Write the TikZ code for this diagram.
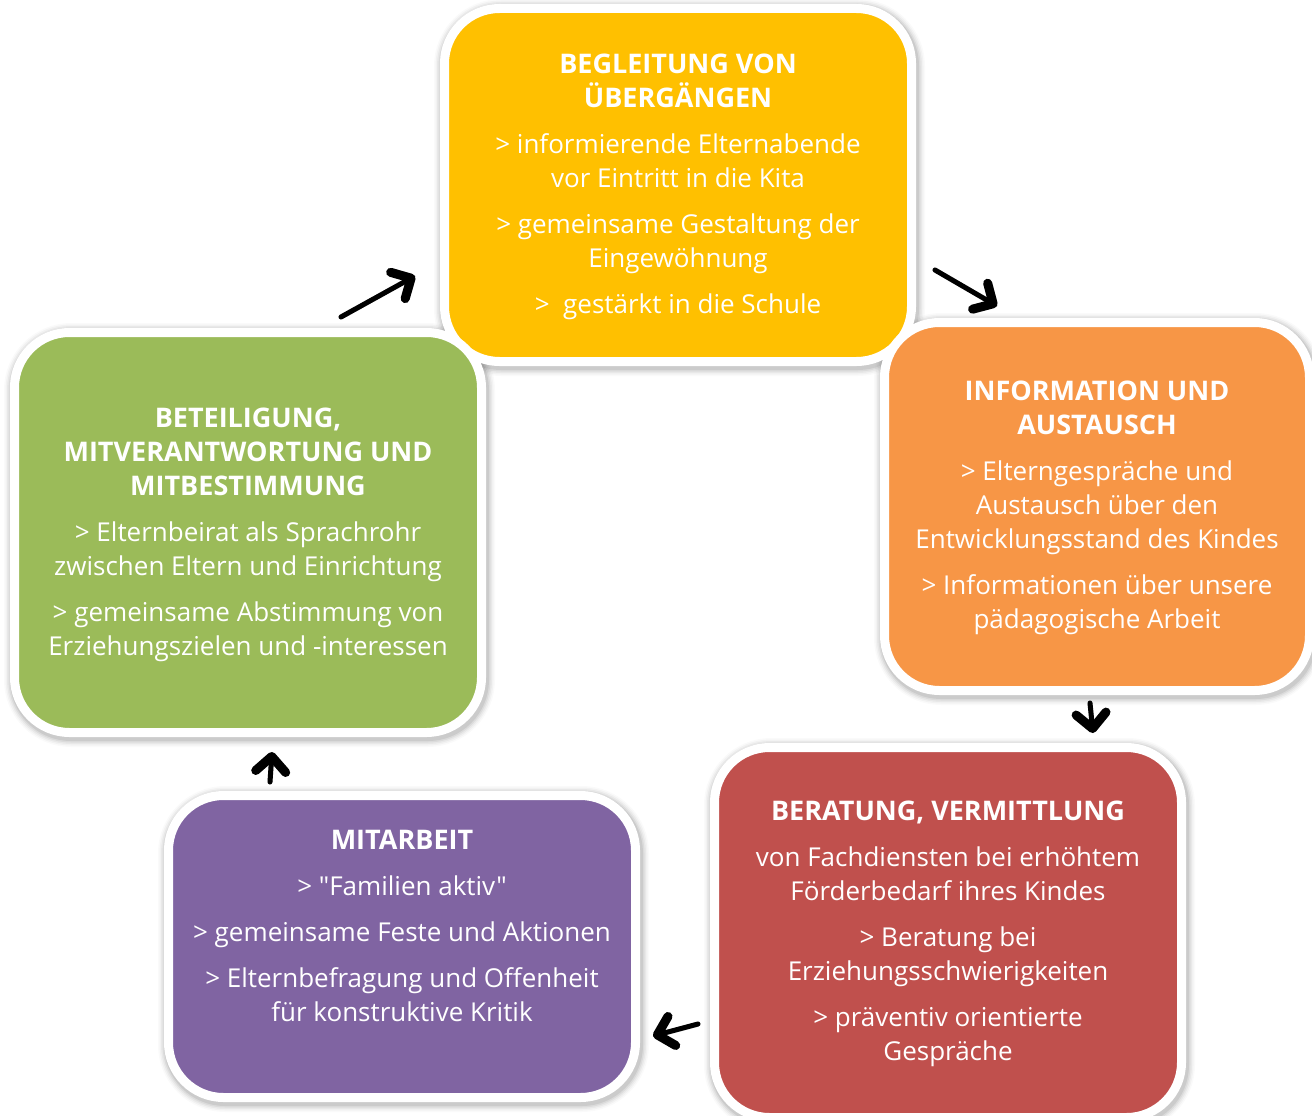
\documentclass[tikz,border=0pt]{standalone}
\usepackage{fontspec}
\setmainfont{Open Sans}[Ligatures=TeXOff]
\usetikzlibrary{arrows.meta}
\definecolor{cyellow}{HTML}{FFC000}
\definecolor{corange}{HTML}{F79646}
\definecolor{cgreen}{HTML}{9BBB59}
\definecolor{cred}{HTML}{C0504D}
\definecolor{cpurple}{HTML}{8064A2}
\newcommand\ttl[1]{{\fontsize{27}{34}\selectfont\bfseries #1}}
\begin{document}
\begin{tikzpicture}[x=1pt,y=-1pt,
  box/.style={rectangle, rounded corners=55pt, draw=white, line width=9pt, inner sep=0pt},
  txt/.style={text=white, align=center, inner sep=0pt, font=\fontsize{26}{34}\selectfont},
  arr/.style={line width=5pt, line cap=round, line join=round, -{Straight Barb[length=15pt,width=30pt,line width=9pt,round]}},
  arrshadow/.style={arr, black, opacity=0.18, xshift=1.5pt, yshift=-3pt}
]
\useasboundingbox (0,0) rectangle (1312,1116);
\fill[white] (0,0) rectangle (1312,1116);
% soft shadows
\foreach \cx/\cy/\w/\h in {678/185/467/353, 1097/506.5/425/368, 248/532.5/467/400, 948/932.5/467/370, 402/946.5/467/302}{
  \foreach \k/\o in {1/0.07,2/0.05,3/0.04,4/0.03,5/0.02}{
    \draw[black, opacity=\o, line width={9pt+3pt*\k}, rounded corners=55pt, xshift=1.5pt, yshift=-2.5pt]
      (\cx-\w/2,\cy-\h/2) rectangle (\cx+\w/2,\cy+\h/2);
  }
}
% boxes
\node[box, fill=cyellow, minimum width=467pt, minimum height=353pt] (yb) at (678,185) {};
\node[box, fill=corange, minimum width=425pt, minimum height=368pt] (ob) at (1097,506.5) {};
\node[box, fill=cgreen, minimum width=467pt, minimum height=400pt] (gb) at (248,532.5) {};
\node[box, fill=cred, minimum width=467pt, minimum height=370pt] (rb) at (948,932.5) {};
\node[box, fill=cpurple, minimum width=467pt, minimum height=302pt] (pb) at (402,946.5) {};
% texts
\node[txt] (yt) at (678,187) {\ttl{BEGLEITUNG VON}\\\ttl{ÜBERGÄNGEN}\\[12pt]
 > informierende Elternabende\\vor Eintritt in die Kita\\[12pt]
 > gemeinsame Gestaltung der\\Eingewöhnung\\[12pt]
 >\ \ gestärkt in die Schule};
\node[txt] (ot) at (1097,508) {\ttl{INFORMATION UND}\\\ttl{AUSTAUSCH}\\[12pt]
 > Elterngespräche und\\Austausch über den\\Entwicklungsstand des Kindes\\[12pt]
 > Informationen über unsere\\pädagogische Arbeit};
\node[txt] (gt) at (248,535) {\ttl{BETEILIGUNG,}\\\ttl{MITVERANTWORTUNG UND}\\\ttl{MITBESTIMMUNG}\\[12pt]
 > Elternbeirat als Sprachrohr\\zwischen Eltern und Einrichtung\\[12pt]
 > gemeinsame Abstimmung von\\Erziehungszielen und -interessen};
\node[txt] (rt) at (948,934) {\ttl{BERATUNG, VERMITTLUNG}\\[12pt]
 von Fachdiensten bei erhöhtem\\Förderbedarf ihres Kindes\\[12pt]
 > Beratung bei\\Erziehungsschwierigkeiten\\[12pt]
 > präventiv orientierte\\Gespräche};
\node[txt] (pt) at (402,926) {\ttl{MITARBEIT}\\[12pt]
 > "Familien aktiv"\\[12pt]
 > gemeinsame Feste und Aktionen\\[12pt]
 > Elternbefragung und Offenheit\\für konstruktive Kritik};
% arrow end points
\coordinate (a1s) at (341,317); \coordinate (a1e) at (415,276);
\coordinate (a2s) at (935,270); \coordinate (a2e) at (997,306);
\coordinate (a3s) at (1090,703); \coordinate (a3e) at (1093,733);
\coordinate (a4s) at (270,782); \coordinate (a4e) at (272,752);
\coordinate (a5s) at (698,1024); \coordinate (a5e) at (653,1036);
\foreach \s/\e in {a1s/a1e,a2s/a2e,a3s/a3e,a4s/a4e,a5s/a5e}{
  \draw[arrshadow] (\s) -- (\e);
  \draw[arr] (\s) -- (\e);
}
\end{tikzpicture}
\end{document}
